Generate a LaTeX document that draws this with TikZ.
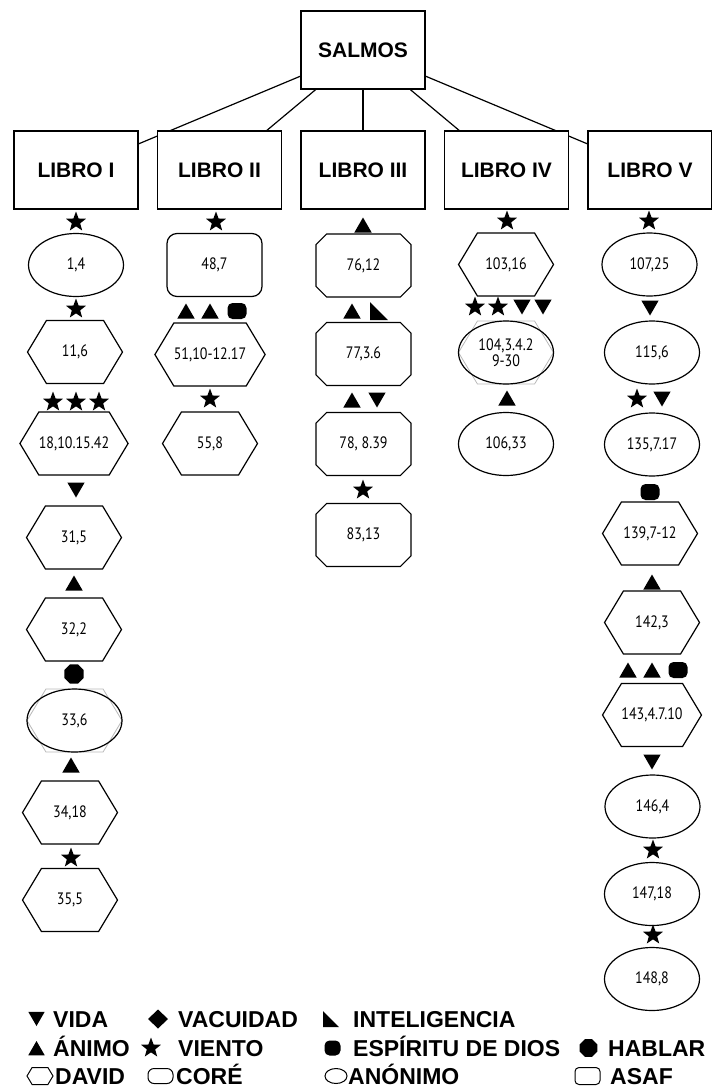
\documentclass[tikz,border=0pt]{standalone}
\usepackage{fontspec}
\setmainfont{Liberation Sans}
\newfontfamily\numfont[FakeStretch=0.85]{PT Sans}
\usetikzlibrary{shapes.geometric}
\usetikzlibrary{shapes.misc}
\usetikzlibrary{shapes.symbols}
\usetikzlibrary{backgrounds}
\tikzset{
  libro/.style={draw, line width=1.3pt, fill=white, minimum width=124pt,
    minimum height=78pt, inner sep=0pt,
    font=\fontsize{21}{21}\selectfont\bfseries},
  salmo/.style={draw, line width=1.2pt, fill=white, minimum width=95pt,
    minimum height=63pt, inner sep=0pt, align=center,
    font=\numfont\fontsize{16.5}{16}\selectfont},
  david/.style={salmo, signal, signal to=east and west, signal pointer angle=118},
  core/.style={salmo, rounded corners=10pt},
  anonimo/.style={salmo, ellipse},
  asaf/.style={salmo, chamfered rectangle, chamfered rectangle xsep=9.5pt},
  % markers between the psalms
  marca/.style={fill, inner sep=0pt, outer sep=0pt},
  vida/.style={marca, regular polygon, regular polygon sides=3,
    shape border rotate=180, minimum size=20pt, yshift=2.5pt},
  animo/.style={marca, regular polygon, regular polygon sides=3,
    minimum size=20pt, yshift=-2.5pt},
  viento/.style={marca, star, star points=5, star point ratio=2.4, minimum size=21pt},
  hablar/.style={marca, regular polygon, regular polygon sides=8, minimum size=21pt},
  espiritu/.style={marca, rounded corners=5pt, minimum width=19pt, minimum height=16pt},
  vacuidad/.style={marca, diamond, minimum width=20pt, minimum height=19pt},
  inteligencia/.style={fill=white, inner sep=0pt, minimum size=18pt,
    path picture={\fill[black] (path picture bounding box.north west)
      -- (path picture bounding box.south west)
      -- (path picture bounding box.south east) -- cycle;}},
  leyenda/.style={anchor=base west, inner sep=0pt,
    font=\fontsize{23}{23}\selectfont\bfseries}
}

\begin{document}
\begin{tikzpicture}[x=1pt, y=-1pt]
  \useasboundingbox (0,0) rectangle (712,1087);

  \node [libro] (salmos) at (363,50) {SALMOS};
  \node [libro] (l1) at (76,170) {LIBRO I};
  \node [libro] (l2) at (219.5,170) {LIBRO II};
  \node [libro] (l3) at (363,170) {LIBRO III};
  \node [libro] (l4) at (506.5,170) {LIBRO IV};
  \node [libro] (l5) at (650,170) {LIBRO V};

  \begin{scope}[on background layer]
    \foreach \i in {1,...,5}
      \draw [line width=1.2pt] (salmos) -- (l\i);
  \end{scope}

  % libro I
  \node [viento] (i1) at (76,222) {};
  \node [anonimo] (s1) at (76,265) {1,4};
  \node [viento] (i2) at (76,309) {};
  \node [david] (s11) at (75,352) {11,6};
  \node [viento] (i3) at (53,402) {};
  \node [viento] (i4) at (76,402) {};
  \node [viento] (i5) at (99,402) {};
  \node [david] (s18) at (74,443.5) {18,10.15.42};
  \node [vida] (i6) at (76,490) {};
  \node [david] (s31) at (74,537.5) {31,5};
  \node [animo] (i7) at (74,583) {};
  \node [david] (s32) at (74,629.5) {32,2};
  \node [hablar] (i8) at (74,674) {};
  \node [david, draw=gray!55, line width=0.8pt] (g33) at (74.5,720.5) {};
  \node [anonimo, fill=none] (s33) at (74.5,720.5) {33,6};
  \node [animo] (i9) at (71,765) {};
  \node [david] (s34) at (70,812.5) {34,18};
  \node [viento] (i10) at (71,858) {};
  \node [david] (s35) at (70,900) {35,5};

  % libro II
  \node [viento] (ii1) at (216,222) {};
  \node [core] (s48) at (214.5,265) {48,7};
  \node [animo] (ii2) at (186,311) {};
  \node [animo] (ii3) at (210,311) {};
  \node [espiritu] (ii4) at (237,311) {};
  \node [david] (s51) at (210,354.5) {51,10-12.17};
  \node [viento] (ii5) at (210,399) {};
  \node [david] (s55) at (210,443.5) {55,8};

  % libro III
  \node [animo] (iii1) at (363,225) {};
  \node [asaf] (s76) at (363.5,265.5) {76,12};
  \node [animo] (iii2) at (352,311) {};
  \node [inteligencia] (iii3) at (379,311) {};
  \node [asaf] (s77) at (363.5,354) {77,3.6};
  \node [animo] (iii4) at (352,400) {};
  \node [vida] (iii5) at (377,400) {};
  \node [asaf] (s78) at (363.5,444) {78, 8.39};
  \node [viento] (iii6) at (363,490) {};
  \node [asaf] (s83) at (363.5,535) {83,13};

  % libro IV
  \node [viento] (iv1) at (507,221) {};
  \node [david] (s103) at (506,264.5) {103,16};
  \node [viento] (iv2) at (475,307) {};
  \node [viento] (iv3) at (498,307) {};
  \node [vida] (iv4) at (522,307) {};
  \node [vida] (iv5) at (543,307) {};
  \node [david, draw=gray!55, line width=0.8pt] (g104) at (506,352.5) {};
  \node [anonimo, fill=none] (s104) at (506,352.5) {104,3.4.2\\9-30};
  \node [animo] (iv6) at (507,398) {};
  \node [anonimo] (s106) at (506,444) {106,33};

  % libro V
  \node [viento] (v1) at (649,221) {};
  \node [anonimo] (s107) at (649.5,264.5) {107,25};
  \node [vida] (v2) at (650,308) {};
  \node [anonimo] (s115) at (652,352.5) {115,6};
  \node [viento] (v3) at (637,399) {};
  \node [vida] (v4) at (662,399) {};
  \node [anonimo] (s135) at (652,444.5) {135,7.17};
  \node [espiritu] (v5) at (650,492) {};
  \node [david] (s139) at (650,533.5) {139,7-12};
  \node [animo] (v6) at (652,582) {};
  \node [david] (s142) at (652,622.5) {142,3};
  \node [animo] (v7) at (628,670) {};
  \node [animo] (v8) at (652,670) {};
  \node [espiritu] (v9) at (678,670) {};
  \node [david] (s143) at (652,715) {143,4.7.10};
  \node [vida] (v10) at (652,762) {};
  \node [anonimo] (s146) at (652.5,806.5) {146,4};
  \node [viento] (v11) at (653,850) {};
  \node [anonimo] (s147) at (652,894) {147,18};
  \node [viento] (v12) at (653,935) {};
  \node [anonimo] (s148) at (652,979) {148,8};

  % leyenda
  \node [vida, minimum size=19pt] (kvida) at (36.5,1019) {};
  \node [leyenda] (tvida) at (53,1027) {VIDA};
  \node [vacuidad] (kvac) at (158,1019) {};
  \node [leyenda] (tvac) at (178,1027) {VACUIDAD};
  \node [inteligencia, minimum size=16pt] (kint) at (331,1019) {};
  \node [leyenda] (tint) at (353,1027) {INTELIGENCIA};

  \node [animo, minimum size=19pt] (kanimo) at (36.5,1048) {};
  \node [leyenda] (tanimo) at (53,1056) {ÁNIMO};
  \node [viento] (kviento) at (151,1048) {};
  \node [leyenda] (tviento) at (178,1056) {VIENTO};
  \node [espiritu, minimum width=16pt, minimum height=15pt] (kesp) at (332.5,1048) {};
  \node [leyenda] (tesp) at (353,1056) {ESPÍRITU DE DIOS};
  \node [hablar, minimum size=19pt] (khab) at (588.5,1048) {};
  \node [leyenda] (thab) at (608,1056) {HABLAR};

  \node [draw, line width=1pt, signal, signal to=east and west,
    signal pointer angle=118, minimum width=26pt, minimum height=17pt,
    inner sep=0pt] (kdavid) at (40,1076) {};
  \node [leyenda] (tdavid) at (55,1084) {DAVID};
  \node [draw, line width=1pt, rounded corners=6pt, minimum width=25pt,
    minimum height=15pt, inner sep=0pt] (kcore) at (160.5,1076) {};
  \node [leyenda] (tcore) at (176,1084) {CORÉ};
  \node [draw, line width=1pt, ellipse, minimum width=22pt, minimum height=15pt,
    inner sep=0pt] (kanon) at (336,1076) {};
  \node [leyenda] (tanon) at (348,1084) {ANÓNIMO};
  \node [draw, line width=1pt, rounded corners=4pt, minimum width=25pt,
    minimum height=17pt, inner sep=0pt] (kasaf) at (587.5,1076) {};
  \node [leyenda] (tasaf) at (610,1084) {ASAF};
\end{tikzpicture}
\end{document}
